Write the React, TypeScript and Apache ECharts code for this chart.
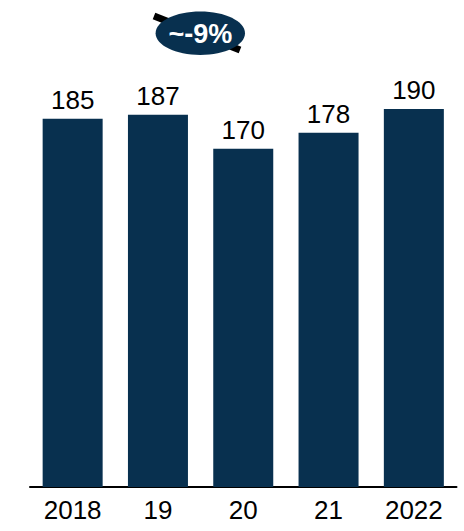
import React, { useEffect, useRef } from "react";
import * as echarts from "echarts";

const categories = ["2018", "19", "20", "21", "2022"];
const values = [185, 187, 170, 178, 190];
const badgeText = "~-9%";

const NAVY = "#08304F";
const FONT = "Liberation Sans, Arial, sans-serif";

export default function App() {
  const ref = useRef<HTMLDivElement>(null);
  useEffect(() => {
    if (!ref.current) return;
    const chart = echarts.init(ref.current, undefined, { renderer: "svg" });
    chart.setOption({
      animation: false,
      backgroundColor: "#ffffff",
      grid: { left: 30, right: 7.5, top: 89, bottom: 44, containLabel: false },
      xAxis: {
        type: "category",
        data: categories,
        axisLine: { show: true, lineStyle: { color: "#000", width: 2 } },
        axisTick: { show: false },
        axisLabel: { color: "#000", fontSize: 26, fontFamily: FONT, margin: 10 },
      },
      yAxis: {
        type: "value",
        min: 0,
        max: 200,
        show: false,
        splitLine: { show: false },
      },
      series: [
        {
          type: "bar",
          data: values,
          barWidth: 60,
          itemStyle: { color: NAVY },
          label: {
            show: true,
            position: "top",
            distance: 6,
            color: "#000",
            fontSize: 26,
            fontFamily: FONT,
          },
        },
      ],
      graphic: [
        {
          type: "line",
          shape: { x1: 154, y1: 16, x2: 240, y2: 50 },
          style: { stroke: "#000", lineWidth: 7 },
          z: 10,
        },
        {
          type: "ellipse",
          shape: { cx: 200.3, cy: 33.3, rx: 44.7, ry: 21.7 },
          style: { fill: NAVY },
          z: 11,
        },
        {
          type: "text",
          x: 200.3,
          y: 33.5,
          style: {
            text: badgeText,
            fill: "#fff",
            fontSize: 27,
            fontWeight: "bold",
            fontFamily: FONT,
            align: "center",
            verticalAlign: "middle",
          },
          z: 12,
        },
      ],
    });
    return () => chart.dispose();
  }, []);
  return (
    <div
      ref={ref}
      style={{ position: "fixed", left: 0, top: 0, width: 464, height: 531 }}
    />
  );
}
